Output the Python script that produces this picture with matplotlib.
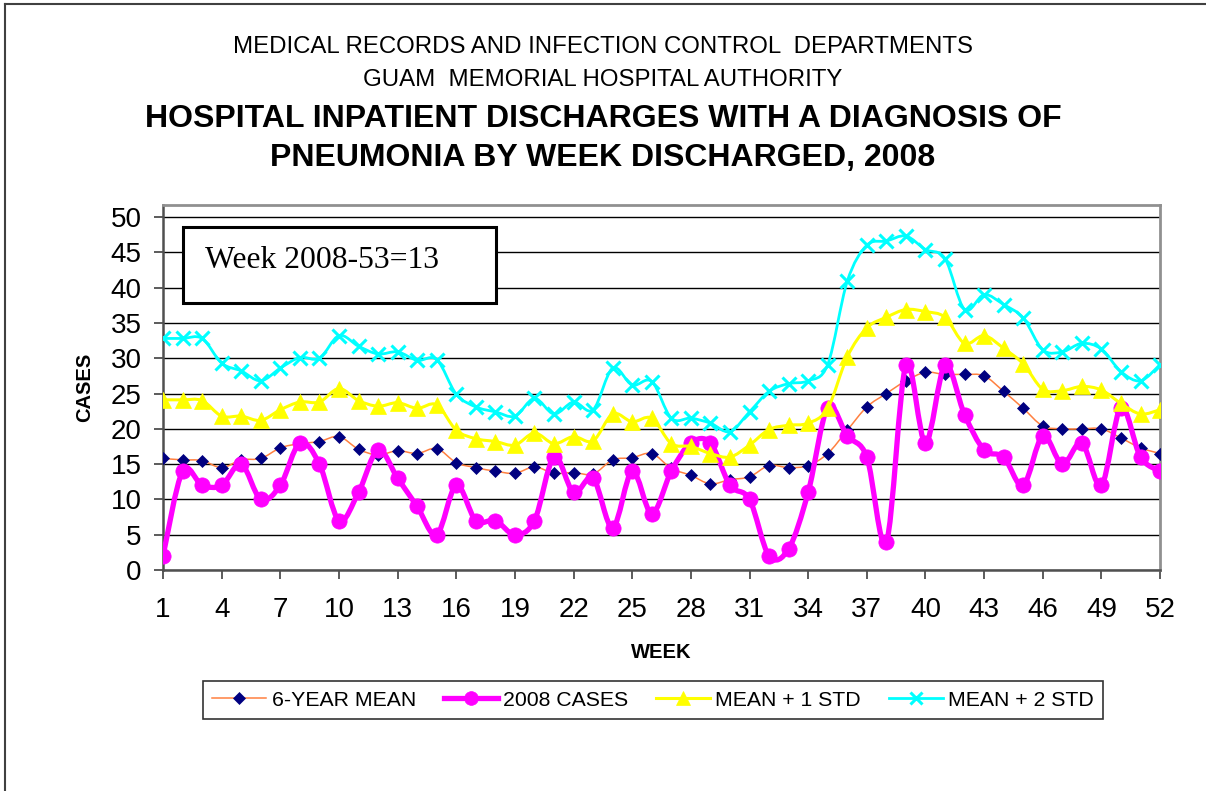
import matplotlib
matplotlib.use("Agg")
import matplotlib.pyplot as plt
from matplotlib.path import Path
from matplotlib.patches import PathPatch, Rectangle
from matplotlib.lines import Line2D
import numpy as np

plt.rcParams['font.family'] = ['Liberation Sans', 'DejaVu Sans']

weeks = list(range(1, 53))

# 6-year mean
mean6 = [15.8, 15.6, 15.5, 14.5, 15.6, 15.8, 17.3, 17.9, 18.2, 18.9,
         17.1, 16.3, 16.9, 16.5, 17.2, 15.2, 14.5, 14.0, 13.7, 14.6,
         13.7, 13.8, 13.6, 15.6, 15.9, 16.5, 14.4, 13.4, 12.2, 12.8,
         13.2, 14.8, 14.5, 14.8, 16.5, 19.8, 23.1, 25.0, 26.8, 28.0,
         27.7, 27.7, 27.5, 25.3, 22.9, 20.4, 20.0, 20.0, 20.0, 18.7,
         17.3, 16.5]

# 2008 cases
cases = [2, 14, 12, 12, 15, 10, 12, 18, 15, 7,
         11, 17, 13, 9, 5, 12, 7, 7, 5, 7,
         16, 11, 13, 6, 14, 8, 14, 18, 18, 12,
         10, 2, 3, 11, 23, 19, 16, 4, 29, 18,
         29, 22, 17, 16, 12, 19, 15, 18, 12, 23,
         16, 14]

# mean + 1 std
std1 = [24.1, 24.1, 24.0, 21.8, 21.8, 21.2, 22.7, 23.8, 23.8, 25.7,
        24.0, 23.2, 23.7, 22.9, 23.4, 19.8, 18.6, 18.2, 17.7, 19.4,
        17.9, 18.9, 18.3, 22.1, 21.0, 21.5, 17.9, 17.5, 16.5, 16.0,
        17.7, 19.9, 20.5, 20.8, 22.9, 30.2, 34.3, 35.8, 36.9, 36.6,
        35.8, 32.1, 33.2, 31.4, 29.2, 25.6, 25.4, 26.0, 25.5, 23.6,
        22.1, 22.7]

# mean + 2 std
std2 = [32.8, 32.8, 32.8, 29.3, 28.2, 26.8, 28.6, 30.1, 30.0, 33.2,
        31.7, 30.6, 30.9, 29.7, 29.8, 24.9, 23.1, 22.4, 21.8, 24.3,
        22.1, 23.8, 22.7, 28.6, 26.2, 26.7, 21.5, 21.5, 20.8, 19.6,
        22.4, 25.3, 26.4, 26.8, 29.1, 40.9, 46.0, 46.6, 47.3, 45.4,
        44.1, 36.9, 39.0, 37.6, 35.7, 31.2, 30.9, 32.1, 31.3, 28.1,
        26.8, 29.1]

xticks = list(range(1, 53, 3))
yticks = list(range(0, 51, 5))


def smooth_path(x, y):
    # Excel-like smoothed line: cubic bezier through every point
    x = np.asarray(x, float)
    y = np.asarray(y, float)
    pts = np.column_stack([x, y])
    n = len(pts)
    verts = [pts[0]]
    codes = [Path.MOVETO]
    for i in range(n - 1):
        p0 = pts[i - 1] if i > 0 else pts[i]
        p1 = pts[i]
        p2 = pts[i + 1]
        p3 = pts[i + 2] if i + 2 < n else pts[i + 1]
        c1 = p1 + (p2 - p0) / 6.0
        c2 = p2 - (p3 - p1) / 6.0
        verts += [c1, c2, p2]
        codes += [Path.CURVE4] * 3
    return Path(verts, codes)


series = [
    # values, line colour, line width, marker, marker colour, marker size, edge width
    (mean6, '#FF8040', 1.1, 'D', '#000080', 6.5, 0.5),
    (cases, '#FF00FF', 3.8, 'o', '#FF00FF', 11, 0.5),
    (std1, '#FFFF00', 2.2, '^', '#FFFF00', 11, 0.5),
    (std2, '#00FFFF', 2.0, 'x', '#00FFFF', 10, 2.2),
]
labels = ['6-YEAR MEAN', '2008 CASES', 'MEAN + 1 STD', 'MEAN + 2 STD']

fig = plt.figure(figsize=(12.06, 7.91), dpi=100)
ax = fig.add_axes([0.1352, 0.2794, 0.8267, 0.4614])

for i, (vals, lc, lw, mk, mc, ms, mew) in enumerate(series):
    patch = PathPatch(smooth_path(weeks, vals), facecolor='none', edgecolor=lc,
                      linewidth=lw, zorder=3 + i, capstyle='round', joinstyle='round')
    ax.add_patch(patch)
    ax.plot(weeks, vals, linestyle='none', marker=mk, markersize=ms,
            markerfacecolor=mc, markeredgecolor=mc, markeredgewidth=mew,
            zorder=3 + i)

ax.set_xlim(1, 52)
ax.set_ylim(0, 51.7)
ax.set_xticks(xticks)
ax.set_yticks(yticks)
ax.yaxis.grid(True, color='black', linewidth=1.0)
ax.set_axisbelow(True)
ax.tick_params(axis='both', direction='out', length=6.5, width=1.2,
               color='#404040', labelsize=20)
ax.tick_params(axis='x', pad=13)
ax.tick_params(axis='y', pad=9)

for side in ['top', 'right']:
    ax.spines[side].set_color('#909090')
    ax.spines[side].set_linewidth(2)
for side in ['left', 'bottom']:
    ax.spines[side].set_color('#505050')
    ax.spines[side].set_linewidth(1.8)

ax.set_xlabel('WEEK', fontsize=14.5, fontweight='bold', labelpad=14)
ax.set_ylabel('CASES', fontsize=14.5, fontweight='bold', labelpad=12)

# note box
fig.patches.append(Rectangle((183 / 1206, 1 - 303 / 791), (496 - 183) / 1206,
                             (303 - 227) / 791, transform=fig.transFigure,
                             facecolor='white', edgecolor='black',
                             linewidth=2.2, zorder=1))
fig.text(205 / 1206, 1 - 268 / 791, 'Week 2008-53=13',
         family=['Liberation Serif', 'DejaVu Serif'],
         fontsize=22.8, va='baseline', ha='left', zorder=12)

# titles
fig.text(0.5, 1 - 53 / 791, 'MEDICAL RECORDS AND INFECTION CONTROL  DEPARTMENTS',
         ha='center', va='baseline', fontsize=17.3)
fig.text(0.5, 1 - 86 / 791, 'GUAM  MEMORIAL HOSPITAL AUTHORITY',
         ha='center', va='baseline', fontsize=17.3)
fig.text(0.5, 1 - 127 / 791, 'HOSPITAL INPATIENT DISCHARGES WITH A DIAGNOSIS OF',
         ha='center', va='baseline', fontsize=23, fontweight='bold')
fig.text(0.5, 1 - 166 / 791, 'PNEUMONIA BY WEEK DISCHARGED, 2008',
         ha='center', va='baseline', fontsize=23, fontweight='bold')

# legend
handles = [Line2D([], [], color=lc, linewidth=lw, marker=mk, markersize=ms * 0.9,
                  markerfacecolor=mc, markeredgecolor=mc, markeredgewidth=mew)
           for (vals, lc, lw, mk, mc, ms, mew) in series]
leg = fig.legend(handles, labels, loc='center', bbox_to_anchor=(653 / 1206, 1 - 700 / 791),
                 ncol=4, fontsize=15.3, frameon=True, fancybox=False,
                 handlelength=2.55, handletextpad=0.25, columnspacing=1.3,
                 borderpad=0.45)
leg.get_frame().set_edgecolor('black')
leg.get_frame().set_linewidth(1.2)

# outer border of the chart
fig.add_artist(Line2D([5 / 1206, 5 / 1206], [0, 1 - 4 / 791], transform=fig.transFigure,
                      color='#404040', linewidth=1.5))
fig.add_artist(Line2D([5 / 1206, 1], [1 - 4 / 791, 1 - 4 / 791], transform=fig.transFigure,
                      color='#404040', linewidth=1.5))

fig.savefig('out.png', dpi=100)
